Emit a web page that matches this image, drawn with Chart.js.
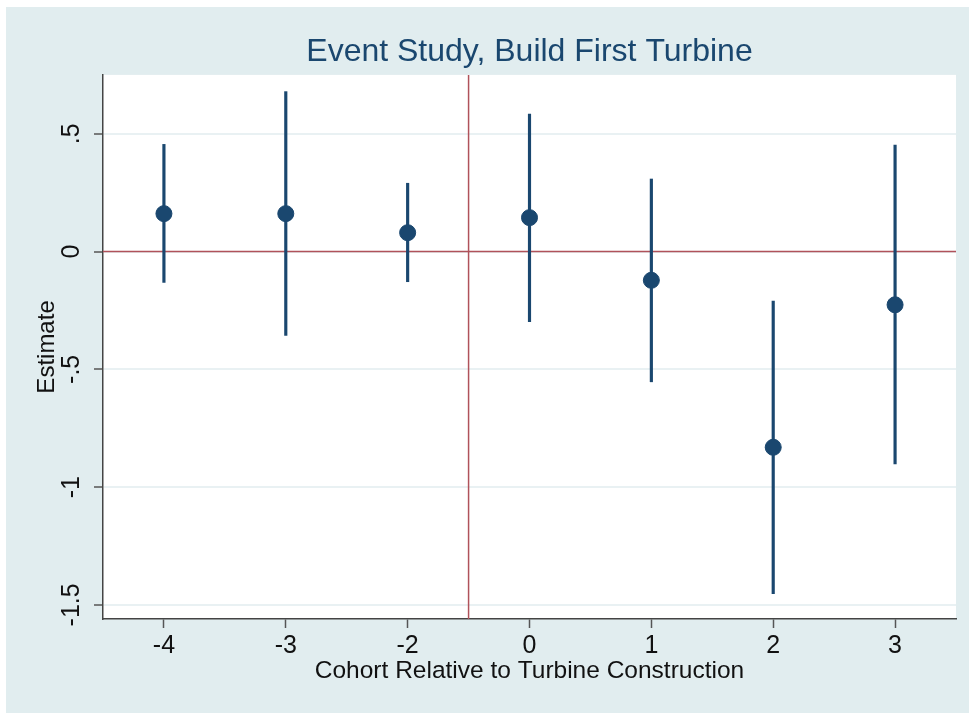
<!DOCTYPE html>
<html>
<head>
<meta charset="utf-8">
<script src="https://cdn.jsdelivr.net/npm/chart.js@4/dist/chart.umd.min.js"></script>
<style>
  html, body { margin: 0; padding: 0; background: #ffffff; }
  #wrap {
    position: absolute; left: 6px; top: 7px;
    width: 963px; height: 706px;
    background: #e1edef;
  }
</style>
</head>
<body>
<div id="wrap"><canvas id="chart" width="963" height="706"></canvas></div>
<script>
// event-time cohorts (shown evenly spaced, -1 omitted as reference period)
const cohorts = ['-4', '-3', '-2', '0', '1', '2', '3'];
const estimates = [0.161, 0.161, 0.080, 0.144, -0.122, -0.831, -0.226];
const ciLower = [-0.131, -0.356, -0.128, -0.298, -0.553, -1.452, -0.902];
const ciUpper = [0.455, 0.679, 0.290, 0.584, 0.308, -0.210, 0.452];
const yTicks = [-1.5, -1, -0.5, 0, 0.5];
const yTickLabels = ['-1.5', '-1', '-.5', '0', '.5'];
const eventLine = 3.5; // between -2 and 0

const NAVY = '#1a476f';
const REF = '#b0525a';
const FONT = "'Liberation Sans', Arial, Helvetica, sans-serif";

// white plot region, title centred over the plot, red reference lines
const plotBackground = {
  id: 'plotBackground',
  afterLayout(chart) {
    const t = chart.titleBlock;
    if (t) {
      t.left = chart.chartArea.left;
      t.right = chart.chartArea.right;
      t.width = t.right - t.left;
    }
  },
  beforeDraw(chart) {
    const { ctx, chartArea: a } = chart;
    ctx.save();
    ctx.fillStyle = '#ffffff';
    ctx.fillRect(a.left, a.top, a.right - a.left, a.bottom - a.top);
    ctx.restore();
  },
  beforeDatasetsDraw(chart) {
    const { ctx, chartArea: a, scales } = chart;
    const y0 = scales.y.getPixelForValue(0);
    const xv = scales.x.getPixelForValue(eventLine);
    ctx.save();
    ctx.strokeStyle = REF;
    ctx.lineWidth = 1.5;
    ctx.beginPath();
    ctx.moveTo(a.left, y0);
    ctx.lineTo(a.right, y0);
    ctx.moveTo(xv, a.top);
    ctx.lineTo(xv, a.bottom);
    ctx.stroke();
    ctx.restore();
  }
};

new Chart(document.getElementById('chart'), {
  type: 'scatter',
  data: {
    datasets: [
      {
        type: 'bar',
        label: '95% CI',
        data: cohorts.map((c, i) => ({ x: i + 1, y: [ciLower[i], ciUpper[i]] })),
        backgroundColor: NAVY,
        borderWidth: 0,
        barThickness: 2.5,
        grouped: false,
        order: 2,
      },
      {
        type: 'scatter',
        label: 'Estimate',
        data: cohorts.map((c, i) => ({ x: i + 1, y: estimates[i] })),
        backgroundColor: NAVY,
        borderColor: NAVY,
        pointRadius: 8,
        pointHoverRadius: 8,
        order: 1,
      },
    ],
  },
  options: {
    responsive: false,
    animation: false,
    layout: { padding: { left: 0, right: 13, top: 0, bottom: 0 } },
    plugins: {
      legend: { display: false },
      tooltip: { enabled: false },
      title: {
        display: true,
        text: 'Event Study, Build First Turbine',
        color: NAVY,
        font: { family: FONT, size: 32, weight: 'normal' },
        padding: { top: 26, bottom: 3.5 },
      },
    },
    scales: {
      x: {
        type: 'linear',
        min: 0.5,
        max: 7.5,
        offset: false,
        afterBuildTicks: (scale) => {
          scale.ticks = cohorts.map((c, i) => ({ value: i + 1 }));
        },
        afterFit: (scale) => { scale.height = 94; },
        ticks: {
          callback: (v) => cohorts[v - 1],
          color: '#111111',
          font: { family: FONT, size: 25 },
          padding: 3,
          maxRotation: 0,
          autoSkip: false,
        },
        grid: {
          offset: false,
          drawOnChartArea: false,
          tickLength: 9,
          tickColor: '#555555',
          tickWidth: 1.5,
        },
        border: { color: '#444444', width: 1.5 },
        title: {
          display: true,
          text: 'Cohort Relative to Turbine Construction',
          color: '#111111',
          font: { family: FONT, size: 24.5 },
          padding: { top: 0, bottom: 27 },
        },
      },
      y: {
        min: -1.56,
        max: 0.75,
        afterBuildTicks: (scale) => {
          scale.ticks = yTicks.map(v => ({ value: v }));
        },
        afterFit: (scale) => { scale.width = 97; },
        ticks: {
          callback: (v) => yTickLabels[yTicks.indexOf(v)],
          color: '#111111',
          font: { family: FONT, size: 25 },
          minRotation: 90,
          maxRotation: 90,
          crossAlign: 'center',
          padding: 0,
          autoSkip: false,
        },
        grid: {
          color: '#e9f1f3',
          lineWidth: 2,
          tickLength: 9,
          tickColor: '#555555',
          tickWidth: 1.5,
        },
        border: { color: '#444444', width: 1.5 },
        title: {
          display: true,
          text: 'Estimate',
          color: '#111111',
          font: { family: FONT, size: 24 },
          padding: { top: 27, bottom: 0 },
        },
      },
    },
  },
  plugins: [plotBackground],
});
</script>
</body>
</html>
